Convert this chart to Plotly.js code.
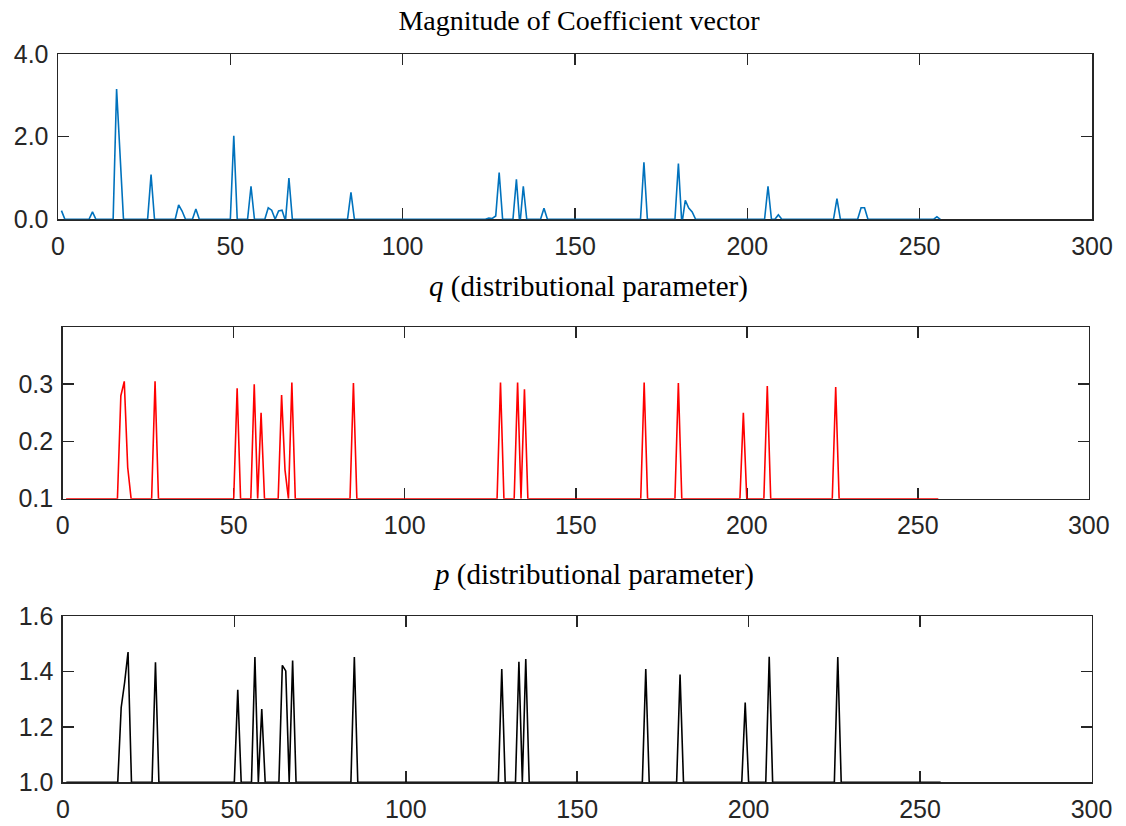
<!DOCTYPE html>
<html>
<head>
<meta charset="utf-8">
<script src="https://cdn.plot.ly/plotly-3.0.1.min.js"></script>
<style>html,body{margin:0;padding:0;background:#fff;}#chart{width:1126px;height:826px;}</style>
</head>
<body>
<div id="chart"></div>
<script>
// Magnitude of coefficient vector (vertices)
const qX = [1,2, 9,10,11, 16,17,18,19, 26,27,28, 34,35,36,37, 39,40,41, 50,51,52, 55,56,57,
  60,61,62,63,64,65,66,67,68, 84,85,86, 124,125,126,127,128,129, 132,133,134,135,136,
  140,141,142, 169,170,171, 179,180,181,182,183,184,185, 205,206,207, 208,209,210,
  225,226,227, 232,233,234,235, 254,255,256];
const qY = [0.21,0, 0,0.18,0, 0,3.15,1.6,0, 0,1.08,0, 0,0.35,0.2,0, 0,0.25,0, 0,2.02,0, 0,0.8,0,
  0,0.28,0.22,0,0.2,0.22,-0.04,1.0,0, 0,0.65,0, 0,0.03,0.02,0.08,1.13,0, 0,0.97,-0.15,0.8,0,
  0,0.27,0, 0,1.38,0, 0,1.35,-0.12,0.46,0.27,0.18,0, 0,0.8,0, 0,0.11,0,
  0,0.5,0, 0,0.28,0.28,0, 0,0.06,0];

// q (distributional parameter)
const pX = [1, 16,17,18,19,20, 26,27,28, 50,51,52, 55,56,57,58,59, 63,64,65,66,67,68, 84,85,86,
  127,128,129, 132,133,134,135,136, 169,170,171, 179,180,181, 198,199,200, 205,206,207, 225,226,227, 256];
const qParam = [0.1, 0.1,0.28,0.305,0.155,0.1, 0.1,0.305,0.1, 0.1,0.293,0.1, 0.1,0.3,0.1,0.25,0.1,
  0.1,0.281,0.15,0.1,0.303,0.1, 0.1,0.302,0.1, 0.1,0.303,0.1, 0.1,0.303,0.1,0.291,0.1,
  0.1,0.303,0.1, 0.1,0.302,0.1, 0.1,0.25,0.1, 0.1,0.297,0.1, 0.1,0.295,0.1, 0.1];

// p (distributional parameter)
const pParam = [1, 1,1.27,1.36,1.47,1, 1,1.433,1, 1,1.334,1, 1,1.452,1,1.264,1,
  1,1.422,1.402,1,1.439,1, 1,1.452,1, 1,1.409,1, 1,1.435,1,1.445,1,
  1,1.409,1, 1,1.389,1, 1,1.288,1, 1,1.453,1, 1,1.452,1, 1];

const xTicks = [0,50,100,150,200,250,300];
const y1Ticks = [0,2,4];
const y2Ticks = [0.1,0.2,0.3];
const y3Ticks = [1.0,1.2,1.4,1.6];

const W = 1126, H = 826;
const axCol = '#262626';
const tickFont = {family: 'Liberation Sans, Arial, sans-serif', size: 25, color: axCol};
const serif = 'Liberation Serif, Times New Roman, serif';

function xax(l, r, anchor) {
  return {domain: [l / W, r / W], range: [0, 300], tickvals: xTicks, ticktext: xTicks.map(String),
    anchor: anchor, showline: true, mirror: 'ticks', linecolor: axCol, linewidth: 1.5,
    ticks: 'inside', ticklen: 11, tickwidth: 1.5, tickcolor: axCol, showgrid: false, zeroline: false,
    tickfont: tickFont, ticklabelstandoff: 4, layer: 'below traces', fixedrange: true};
}
function yax(top, bot, range, vals, fmt, anchor) {
  return {domain: [(H - bot) / H, (H - top) / H], range: range, tickvals: vals,
    ticktext: vals.map(v => v.toFixed(fmt)), anchor: anchor,
    showline: true, mirror: 'ticks', linecolor: axCol, linewidth: 1.5,
    ticks: 'inside', ticklen: 11, tickwidth: 1.5, tickcolor: axCol, showgrid: false, zeroline: false,
    tickfont: tickFont, ticklabelstandoff: 3, layer: 'below traces', fixedrange: true};
}

const traces = [
  {x: qX, y: qY, xaxis: 'x', yaxis: 'y', type: 'scatter', mode: 'lines',
   line: {color: '#0072BD', width: 1.6}, showlegend: false},
  {x: pX, y: qParam, xaxis: 'x2', yaxis: 'y2', type: 'scatter', mode: 'lines',
   line: {color: '#FF0000', width: 1.6}, showlegend: false},
  {x: pX, y: pParam, xaxis: 'x3', yaxis: 'y3', type: 'scatter', mode: 'lines',
   line: {color: '#000000', width: 1.6}, showlegend: false}
];

const layout = {
  width: W, height: H, margin: {l: 0, r: 0, t: 0, b: 0},
  paper_bgcolor: '#ffffff', plot_bgcolor: '#ffffff', showlegend: false,
  title: {text: 'Magnitude of Coefficient vector', font: {family: serif, size: 28, color: '#000'},
    x: 579 / W, xanchor: 'center', y: 1 - 20 / H, yanchor: 'middle'},
  xaxis: xax(58, 1092, 'y'),
  yaxis: yax(54, 219.3, [0, 4], y1Ticks, 1, 'x'),
  xaxis2: xax(62.7, 1088.8, 'y2'),
  yaxis2: yax(327.3, 498.7, [0.1, 0.3995], y2Ticks, 1, 'x2'),
  xaxis3: xax(62.9, 1091.5, 'y3'),
  yaxis3: yax(616, 782.3, [1.0, 1.6], y3Ticks, 1, 'x3'),
  annotations: [
    {text: '<i>q</i> (distributional parameter)', xref: 'paper', yref: 'paper',
     x: 588 / W, y: 1 - 287 / H, xanchor: 'center', yanchor: 'middle', showarrow: false,
     font: {family: serif, size: 29, color: '#000'}},
    {text: '<i>p</i> (distributional parameter)', xref: 'paper', yref: 'paper',
     x: 593 / W, y: 1 - 574 / H, xanchor: 'center', yanchor: 'middle', showarrow: false,
     font: {family: serif, size: 29, color: '#000'}}
  ]
};

Plotly.newPlot('chart', traces, layout, {staticPlot: true, displayModeBar: false});
</script>
</body>
</html>
